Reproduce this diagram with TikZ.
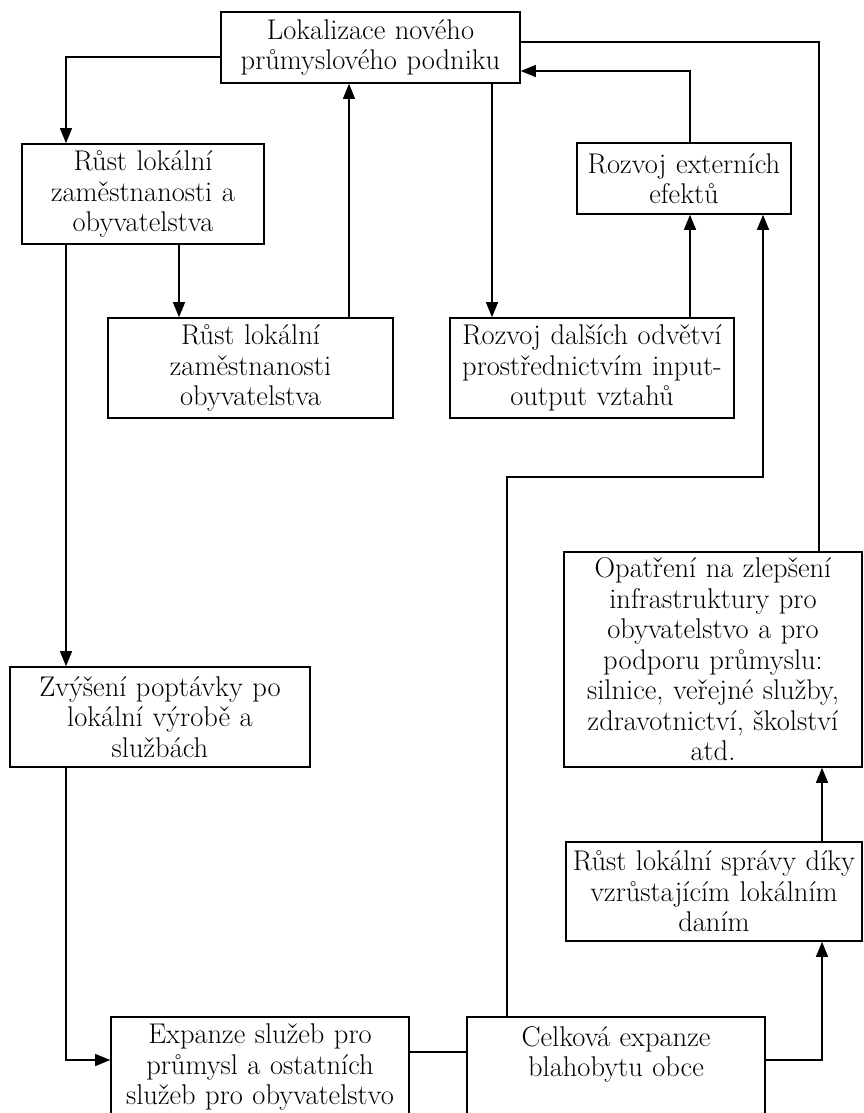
\documentclass[tikz,border=0pt]{standalone}
\usetikzlibrary{arrows.meta, positioning, calc}
\tikzset{
  every picture/.style={line width=1.3pt},
  box/.style={draw, line width=1.6pt, align=center, inner sep=0pt, text width=#1, minimum width=#1, minimum height=100pt, font=\fontsize{28.5}{30.5}\selectfont},
  box/.default=298pt,
  arrow/.style={-{Triangle[length=15pt, width=12pt]}},
}
\begin{document}
\begin{tikzpicture}[x=1pt, y=-1pt]
  \useasboundingbox (0,0) rectangle (864,1113);
  % boxes
  \node[box=299pt, minimum height=71pt] (lok) at (370.5,47.5) {Lokalizace nového\\průmyslového podniku};
  \node[box=242pt] (rustA) at (143,194) {Růst lokální\\zaměstnanosti a\\obyvatelstva};
  \node[box=214pt, minimum height=71pt] (ext) at (684,178.5) {Rozvoj externích\\efektů};
  \node[box=285pt] (rustB) at (250.5,368) {Růst lokální\\zaměstnanosti\\obyvatelstva};
  \node[box=284pt] (odv) at (592,368) {Rozvoj dalších odvětví\\prostřednictvím input-\\output vztahů};
  \node[box=300pt] (popt) at (160,717) {Zvýšení poptávky po\\lokální výrobě a\\službách};
  \node[box=298pt, minimum height=215pt] (opat) at (713,659.5) {Opatření na zlepšení\\infrastruktury pro\\obyvatelstvo a pro\\podporu průmyslu:\\silnice, veřejné služby,\\zdravotnictví, školství\\atd.};
  \node[box=296pt, minimum height=99pt] (sprav) at (714,891.5) {Růst lokální správy díky\\vzrůstajícím lokálním\\daním};
  \node[box] (exp) at (260,1067) {Expanze služeb pro\\průmysl a ostatních\\služeb pro obyvatelstvo};
  \node[box] (celk) at (616,1067) {Celková expanze\\blahobytu obce\\\mbox{}};
  % connectors
  \coordinate (bend) at (763,477);
  \draw[arrow] ([yshift=-9.5pt]lok.west) -| ([xshift=-77pt]rustA.north);
  \draw ([yshift=5.5pt]lok.east) -| ([xshift=106pt]opat.north);
  \draw[arrow] ([xshift=6pt]ext.north) |- ([yshift=-23.5pt]lok.east);
  \draw[arrow] ([xshift=98.5pt]rustB.north) -- ([xshift=-21.5pt]lok.south);
  \draw[arrow] ([xshift=121.5pt]lok.south) -- ([xshift=-100pt]odv.north);
  \draw[arrow] ([xshift=36pt]rustA.south) -- ([xshift=-71.5pt]rustB.north);
  \draw[arrow] ([xshift=98pt]odv.north) -- ([xshift=6pt]ext.south);
  \draw[arrow] ([xshift=-109pt]celk.north) |- (bend) -- ([xshift=79pt]ext.south);
  \draw[arrow] ([xshift=-77pt]rustA.south) -- ([xshift=-94pt]popt.north);
  \draw[arrow] ([xshift=-94pt]popt.south) |- ([yshift=7pt]exp.west);
  \draw ([yshift=15pt]exp.east) -- ([yshift=15pt]celk.west);
  \draw[arrow] ([yshift=7pt]celk.east) -| ([xshift=108pt]sprav.south);
  \draw[arrow] ([xshift=108pt]sprav.north) -- ([xshift=109pt]opat.south);
\end{tikzpicture}
\end{document}
